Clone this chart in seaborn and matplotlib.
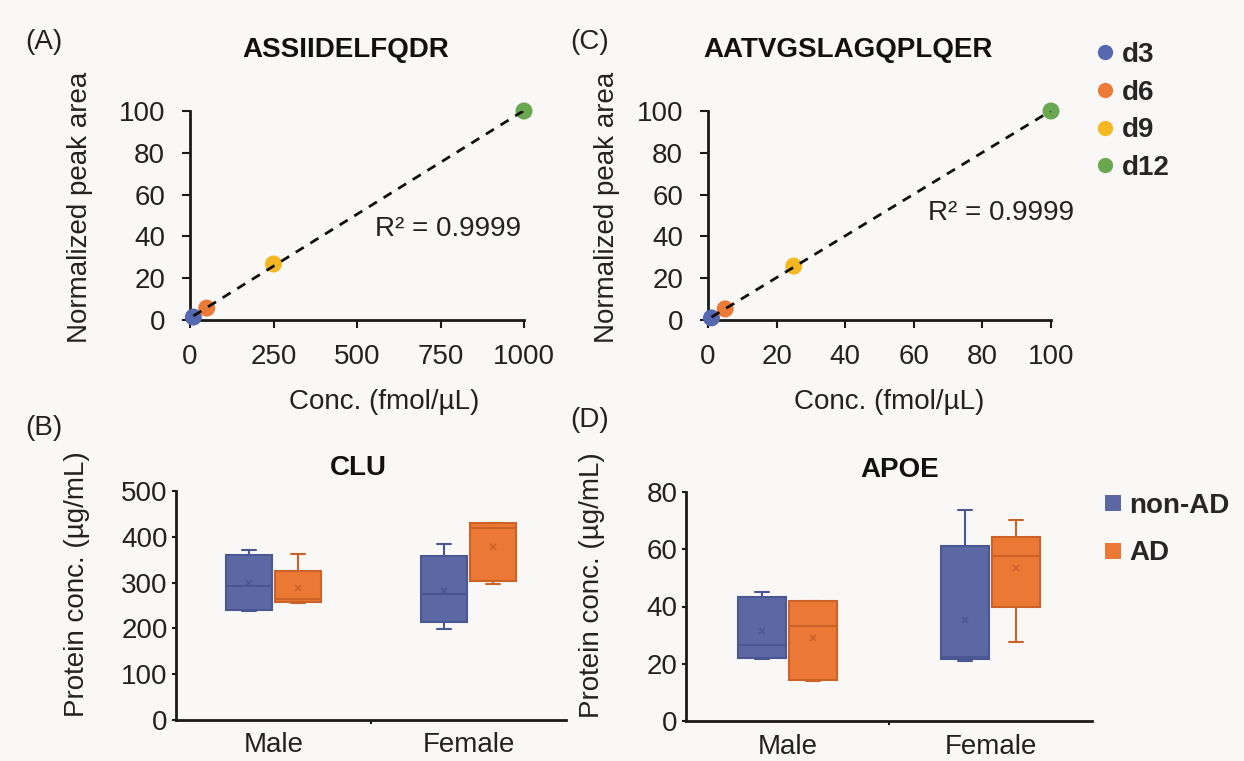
import numpy as np
import pandas as pd
import seaborn as sns
import matplotlib.pyplot as plt
from matplotlib.lines import Line2D

# ---- data ----
levels = ["d3", "d6", "d9", "d12"]
conc_a = [10, 50, 250, 1000]
area_a = [1.4, 5.7, 26.8, 100]
conc_c = [1, 5, 25, 100]
area_c = [1.0, 5.3, 25.8, 100]
r2_a = "R² = 0.9999"
r2_c = "R² = 0.9999"

sexes = ["Male", "Female"]
groups = ["non-AD", "AD"]
# order: Male non-AD, Male AD, Female non-AD, Female AD
clu_low = [238, 255, 199, 297]
clu_q1 = [240, 257, 214, 303]
clu_med = [292, 264, 275, 419]
clu_q3 = [360, 325, 358, 430]
clu_high = [371, 362, 384, 430]
clu_mean = [299, 288, 282, 378]

apoe_low = [21.6, 14.1, 21.0, 27.6]
apoe_q1 = [21.9, 14.3, 21.7, 39.8]
apoe_med = [26.5, 33.2, 22.4, 57.6]
apoe_q3 = [43.3, 41.9, 61.1, 64.3]
apoe_high = [45.1, 41.9, 73.7, 70.2]
apoe_mean = [31.4, 29.0, 35.3, 53.4]

dot_colors = ["#5568B0", "#EC7A38", "#F5B823", "#6AA84F"]
box_face = {"non-AD": "#5B68A4", "AD": "#EB7835"}
box_edge = {"non-AD": "#4A5793", "AD": "#CC6227"}

BG = "#F9F8F6"
W, H = 1244, 761

sns.set_theme(style="ticks")
plt.rcParams["font.family"] = ["Liberation Sans", "DejaVu Sans"]
plt.rcParams["axes.facecolor"] = BG
plt.rcParams["figure.facecolor"] = BG


def rect(x0, y0, x1, y1):
    # pixel box (top-left origin) -> figure fraction
    return [x0 / W, 1 - y1 / H, (x1 - x0) / W, (y1 - y0) / H]


def px(x, y):
    return x / W, 1 - y / H


fig = plt.figure(figsize=(W / 100, H / 100), dpi=100)

ax_a = fig.add_axes(rect(190, 111, 524, 320))
ax_c = fig.add_axes(rect(708, 111, 1051, 320))
ax_b = fig.add_axes(rect(176, 491, 566, 720))
ax_d = fig.add_axes(rect(686, 492, 1092, 721))


def calib(ax, x, y, xmax, xticks, r2, r2pos, xl_x, yl_x):
    sns.regplot(x=np.array(x, float), y=np.array(y, float), ax=ax, scatter=False, ci=None,
                color="#111111", line_kws=dict(ls=(0, (3.4, 2.8)), lw=2.0, zorder=4))
    sns.scatterplot(x=x, y=y, hue=levels, palette=dot_colors, s=150, ax=ax,
                    legend=False, edgecolor="none", zorder=3, clip_on=False)
    ax.set_xlim(0, xmax)
    ax.set_ylim(0, 100)
    ax.set_xticks(xticks)
    ax.set_yticks(range(0, 101, 20))
    ax.tick_params(axis="both", direction="out", length=6, width=1.5,
                   labelsize=20, color="#1a1a1a", labelcolor="#222222")
    ax.tick_params(axis="y", pad=12)
    ax.tick_params(axis="x", pad=11)
    for s in ["top", "right"]:
        ax.spines[s].set_visible(False)
    for s in ["left", "bottom"]:
        ax.spines[s].set_linewidth(2)
        ax.spines[s].set_color("#1a1a1a")
    ax.set_xlabel("Conc. (fmol/µL)", fontsize=20, color="#222222")
    ax.set_ylabel("Normalized peak area", fontsize=20, color="#222222")
    ax.xaxis.set_label_coords(xl_x, -0.33)
    ax.yaxis.set_label_coords(yl_x, 0.54)
    ax.text(r2pos[0], r2pos[1], r2, fontsize=20, color="#222222", ha="left", va="center")


calib(ax_a, conc_a, area_a, 1000, [0, 250, 500, 750, 1000], r2_a, (554, 43.5), 0.58, -0.29)
calib(ax_c, conc_c, area_c, 100, [0, 20, 40, 60, 80, 100], r2_c, (64, 51), 0.528, -0.257)


def boxes(ax, low, q1, med, q3, high, mean, ymax, ystep, yl_x):
    stats = []
    pos = []
    cols = []
    k = 0
    for i, sx in enumerate(sexes):
        for j, g in enumerate(groups):
            stats.append(dict(whislo=low[k], q1=q1[k], med=med[k], q3=q3[k],
                              whishi=high[k], mean=mean[k], fliers=[]))
            pos.append(i + (j - 0.5) * 0.25)
            cols.append(g)
            k += 1
    for st, p, g in zip(stats, pos, cols):
        ec = box_edge[g]
        ax.bxp([st], positions=[p], widths=0.235, patch_artist=True, showmeans=True,
               showfliers=False, capwidths=0.07, manage_ticks=False,
               boxprops=dict(facecolor=box_face[g], edgecolor=ec, linewidth=1.5),
               medianprops=dict(color=ec, linewidth=1.5),
               whiskerprops=dict(color=ec, linewidth=1.5),
               capprops=dict(color=ec, linewidth=1.5),
               meanprops=dict(marker="x", markeredgecolor=ec, markersize=5, markeredgewidth=1.2))
    ax.set_xlim(-0.5, 1.5)
    ax.set_ylim(0, ymax)
    ax.set_xticks([0, 1])
    ax.set_xticklabels(sexes)
    ax.set_xticks([0.5], minor=True)
    ax.set_yticks(np.arange(0, ymax + 1, ystep))
    ax.tick_params(axis="x", which="major", length=0, labelsize=20, pad=9, labelcolor="#222222")
    ax.tick_params(axis="x", which="minor", length=3, width=1.5, color="#1a1a1a")
    ax.tick_params(axis="y", direction="out", length=3, width=1.5, labelsize=20, pad=3,
                   color="#1a1a1a", labelcolor="#222222")
    for s in ["top", "right"]:
        ax.spines[s].set_visible(False)
    for s in ["left", "bottom"]:
        ax.spines[s].set_linewidth(2)
        ax.spines[s].set_color("#1a1a1a")
    ax.set_ylabel("Protein conc. (µg/mL)", fontsize=20, color="#222222")
    ax.yaxis.set_label_coords(yl_x, 0.594)


boxes(ax_b, clu_low, clu_q1, clu_med, clu_q3, clu_high, clu_mean, 500, 100, -0.22)
boxes(ax_d, apoe_low, apoe_q1, apoe_med, apoe_q3, apoe_high, apoe_mean, 80, 20, -0.2)

# titles and panel letters
fig.text(*px(346, 50), "ASSIIDELFQDR", fontsize=20, fontweight="bold", ha="center", va="center", color="#111111")
fig.text(*px(848, 50), "AATVGSLAGQPLQER", fontsize=20, fontweight="bold", ha="center", va="center", color="#111111")
fig.text(*px(358, 468), "CLU", fontsize=20, fontweight="bold", ha="center", va="center", color="#111111")
fig.text(*px(900, 470), "APOE", fontsize=20, fontweight="bold", ha="center", va="center", color="#111111")
for lab, x, y in [("(A)", 25, 42), ("(B)", 25, 428), ("(C)", 570, 42), ("(D)", 570, 420)]:
    fig.text(*px(x, y), lab, fontsize=20, ha="left", va="center", color="#222222")

# legends
dot_handles = [Line2D([], [], ls="none", marker="o", markersize=11, color=c, markeredgewidth=0)
               for c in dot_colors]
fig.legend(dot_handles, levels, loc="upper left", bbox_to_anchor=px(1077, 28), frameon=False,
           prop=dict(weight="bold", size=20), handletextpad=0.1, labelspacing=0.42,
           handlelength=1.0, borderpad=0)
box_handles = [Line2D([], [], ls="none", marker="s", markersize=11, color=box_face[g], markeredgewidth=0)
               for g in groups]
fig.legend(box_handles, groups, loc="upper left", bbox_to_anchor=px(1085, 479), frameon=False,
           prop=dict(weight="bold", size=20), handletextpad=0.1, labelspacing=0.77,
           handlelength=1.0, borderpad=0)

fig.savefig("out.png", dpi=100, facecolor=BG)
